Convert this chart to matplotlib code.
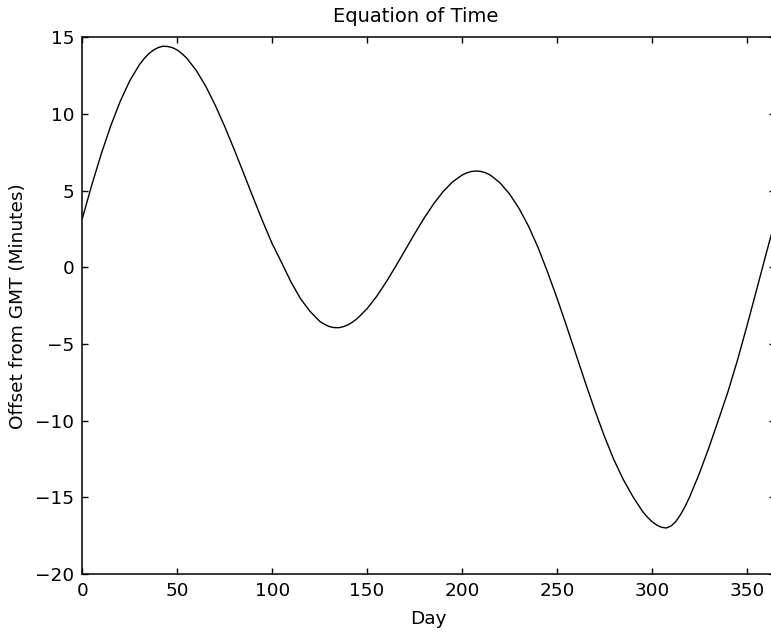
import matplotlib
matplotlib.use("Agg")
import matplotlib.pyplot as plt

# ── Data (day of year → offset in minutes) ──────────────────────────────────
# 5-day steps, with a few extra readings around the turning points
days = [
    0, 5, 10, 15, 20, 25, 30, 32.5, 35, 37.5, 40, 42.5, 45, 47.5,
    50, 52.5, 55, 60, 65, 70, 75, 80, 85, 90, 95,
    100, 105, 110, 115, 120, 125, 127.5, 130, 132.5, 135, 137.5, 140, 142.5, 145,
    150, 155, 160, 165, 170, 175, 180, 185, 190, 195,
    200, 202.5, 205, 207.5, 210, 212.5, 215, 220, 225, 230, 235, 240, 245,
    250, 255, 260, 265, 270, 275, 280, 285, 290, 295, 297.5,
    300, 302.5, 305, 307.5, 310, 312.5, 315, 317.5, 320, 325, 330, 335, 340, 345,
    350, 355, 360, 365,
]
offset_min = [
    3.19, 5.38, 7.41, 9.24, 10.84, 12.17, 13.20, 13.60, 13.93, 14.17, 14.33, 14.42, 14.40, 14.32,
    14.17, 13.93, 13.64, 12.84, 11.81, 10.57, 9.18, 7.68, 6.12, 4.54, 3.00,
    1.54, 0.30, -0.98, -2.06, -2.88, -3.52, -3.71, -3.86, -3.93, -3.94, -3.87, -3.75, -3.56, -3.32,
    -2.70, -1.90, -0.97, 0.05, 1.11, 2.18, 3.20, 4.13, 4.93, 5.57,
    6.01, 6.16, 6.25, 6.28, 6.25, 6.16, 6.01, 5.51, 4.79, 3.85, 2.69, 1.31, -0.29,
    -1.99, -3.81, -5.67, -7.53, -9.33, -11.02, -12.55, -13.85, -14.95, -15.90, -16.27,
    -16.58, -16.80, -16.95, -17.00, -16.88, -16.60, -16.15, -15.60, -14.95, -13.45, -11.78, -9.98, -8.15, -6.10,
    -3.87, -1.55, 0.79, 3.08,
]
x_ticks = [0, 50, 100, 150, 200, 250, 300, 350]
y_ticks = [-20, -15, -10, -5, 0, 5, 10, 15]

FS = 13.3

fig = plt.figure(figsize=(7.71, 6.33), dpi=100)
# right edge of the axes sits just past the figure edge, as in the reference
ax = fig.add_axes([0.1068, 0.0932, 0.8987, 0.8479])

ax.plot(days, offset_min, color="black", linewidth=1.0)

ax.set_xlim(0, 365)
ax.set_ylim(-20, 15)
ax.set_xticks(x_ticks)
ax.set_yticks(y_ticks)
ax.tick_params(direction="in", top=True, right=True, length=4.2,
               width=1.0, pad=6, labelsize=FS)
for sp in ax.spines.values():
    sp.set_linewidth(1.1)

ax.set_xlabel("Day", fontsize=FS, labelpad=7)
ax.set_ylabel("Offset from GMT (Minutes)", fontsize=FS, labelpad=6)
# title is centred on the original (uncropped) figure, not on the axes
fig.text(416 / 771, 1 - 16 / 633, "Equation of Time", fontsize=14,
         ha="center", va="center")

fig.savefig("out.png", dpi=100)
